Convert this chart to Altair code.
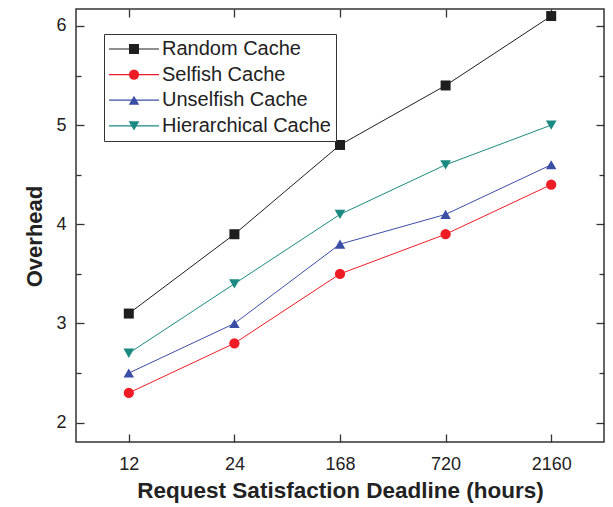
import altair as alt
import pandas as pd

deadlines = ["12", "24", "168", "720", "2160"]
series_names = ["Random Cache", "Selfish Cache", "Unselfish Cache", "Hierarchical Cache"]
random_cache = [3.1, 3.9, 4.8, 5.4, 6.1]
selfish_cache = [2.3, 2.8, 3.5, 3.9, 4.4]
unselfish_cache = [2.5, 3.0, 3.8, 4.1, 4.6]
hierarchical_cache = [2.7, 3.4, 4.1, 4.6, 5.0]
y_ticks = [2, 2.5, 3, 3.5, 4, 4.5, 5, 5.5, 6]

colors = ["#1e1e1e", "#ee1d25", "#3b4ea6", "#1b8a82"]
shapes = ["square", "circle", "triangle-up", "triangle-down"]
sizes = [100, 115, 135, 135]

marker_names = [n + " \u200b" for n in series_names]

rows = []
for name, mname, vals in zip(series_names, marker_names,
                             [random_cache, selfish_cache, unselfish_cache, hierarchical_cache]):
    for d, v in zip(deadlines, vals):
        rows.append({"Deadline": d, "Overhead": v, "Series": name, "Marker": mname})
df = pd.DataFrame(rows)

FONT = "Liberation Sans"
TXT = "#222222"
AX = "#333333"
W, H = 528, 433

x_scale = alt.Scale(type="point", domain=deadlines, padding=0.5)
y_scale = alt.Scale(domain=[1.805, 6.171], nice=False, zero=False)

y_tick_size = {"condition": {"test": "datum.value % 1 === 0", "value": 8}, "value": 5}

# inward ticks: axes placed on the opposite edge with negative offsets
ticks_x_bottom = alt.Axis(orient="top", offset=-H, domain=False, grid=False, labels=False,
                          title=None, tickSize=8, tickColor=AX, tickWidth=1.3)
ticks_x_top = alt.Axis(orient="bottom", offset=-H, domain=False, grid=False, labels=False,
                       title=None, tickSize=8, tickColor=AX, tickWidth=1.3)
ticks_y_left = alt.Axis(orient="right", offset=-W, domain=False, grid=False, labels=False,
                        title=None, values=y_ticks, tickSize=y_tick_size, tickColor=AX, tickWidth=1.3)
ticks_y_right = alt.Axis(orient="left", offset=-W, domain=False, grid=False, labels=False,
                         title=None, values=y_ticks, tickSize=y_tick_size, tickColor=AX, tickWidth=1.3)

label_x = alt.Axis(
    orient="bottom", domain=False, grid=False, ticks=False,
    labelFont=FONT, labelFontSize=18, labelColor=TXT, labelAngle=0,
    labelBaseline="alphabetic", labelPadding=27,
    title="Request Satisfaction Deadline (hours)",
    titleFont=FONT, titleFontSize=22.5, titleFontWeight="bold", titleColor=TXT,
    titleY=55.5, titleBaseline="alphabetic",
)
label_y = alt.Axis(
    orient="left", domain=False, grid=False, ticks=False, values=[2, 3, 4, 5, 6], format="d",
    labelFont=FONT, labelFontSize=18, labelColor=TXT, labelPadding=10,
    title="Overhead", titleFont=FONT, titleFontSize=22, titleFontWeight="bold",
    titleColor=TXT, titleAngle=270, titleX=-42, titleY=227,
    titleAlign="center", titleBaseline="middle",
)

legend_lines = alt.Legend(
    title=None, orient="none", legendX=28, legendY=25, padding=5,
    strokeColor=AX, fillColor="white", symbolType="M-5,0H20", symbolSize=16,
    symbolStrokeWidth=1.2, labelOffset=33, labelFont=FONT, labelFontSize=20,
    labelLimit=400, labelColor=TXT, rowPadding=5.6, zindex=1,
)
legend_marks = alt.Legend(
    title=None, orient="none", legendX=43, legendY=25, padding=5,
    symbolStrokeWidth=0, labelFont=FONT, labelFontSize=20, labelExpr="''",
    rowPadding=5.6, zindex=2,
)

lines = alt.Chart(df).mark_line(strokeWidth=1).encode(
    x=alt.X("Deadline:O", scale=x_scale, sort=deadlines, axis=ticks_x_bottom),
    y=alt.Y("Overhead:Q", scale=y_scale, axis=ticks_y_left),
    color=alt.Color("Series:N", scale=alt.Scale(domain=series_names, range=colors), legend=legend_lines),
)
points = alt.Chart(df).mark_point(filled=True, opacity=1).encode(
    x=alt.X("Deadline:O", scale=x_scale, sort=deadlines, axis=ticks_x_top),
    y=alt.Y("Overhead:Q", scale=y_scale, axis=ticks_y_right),
    fill=alt.Fill("Marker:N", scale=alt.Scale(domain=marker_names, range=colors), legend=legend_marks),
    shape=alt.Shape("Marker:N", scale=alt.Scale(domain=marker_names, range=shapes), legend=legend_marks),
    size=alt.Size("Marker:N", scale=alt.Scale(domain=marker_names, range=sizes), legend=legend_marks),
)
labels_layer = alt.Chart(df).mark_point(opacity=0).encode(
    x=alt.X("Deadline:O", scale=x_scale, sort=deadlines, axis=label_x),
    y=alt.Y("Overhead:Q", scale=y_scale, axis=label_y),
)

chart = alt.layer(lines, points, labels_layer).resolve_axis(x="independent", y="independent").properties(
    width=W, height=H,
    autosize=alt.AutoSizeParams(type="none"),
    padding={"left": 68, "top": 1, "right": 1, "bottom": 65},
    background="white",
).configure_view(stroke=AX, strokeWidth=1.5)

chart.save("out.html", embed_options={"renderer": "svg", "actions": False})
